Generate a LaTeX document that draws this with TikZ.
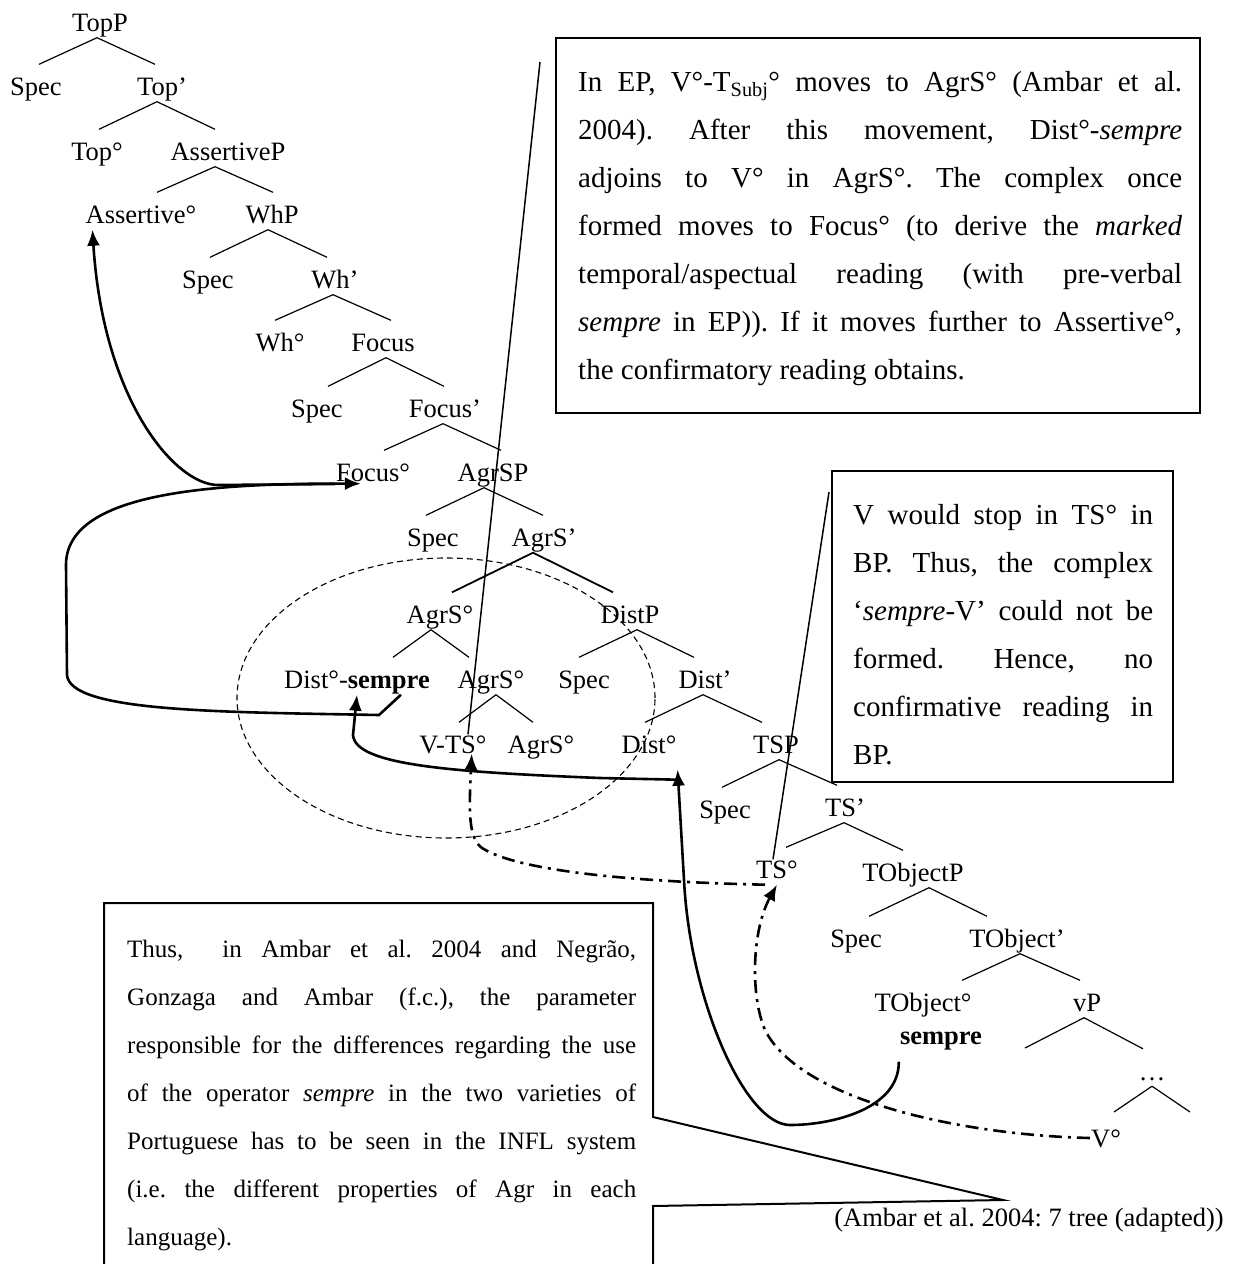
\documentclass[tikz,border=0pt]{standalone}
\usepackage{fontspec}
\setmainfont{Liberation Serif}
\frenchspacing
\usetikzlibrary{arrows.meta}

\begin{document}
\begin{tikzpicture}[x=1pt,y=-1pt,>={Latex[length=16pt,width=13pt]},
	lbl/.style={font=\fontsize{26.5}{30}\selectfont, inner sep=1pt, text height=18pt, text depth=5pt},
	branch/.style={line width=1.2pt},
	move/.style={line width=2.6pt},
	trace/.style={line width=2.6pt, dash pattern=on 13pt off 6pt on 3pt off 6pt},
	frame/.style={line width=2pt},
	note/.style={inner sep=0pt, align=justify, anchor=base west, font=\fontsize{29}{48}\selectfont}]
	\useasboundingbox (0,0) rectangle (1232,1264);

	% the tree, top down
	\node[lbl] (topP) at (100,25) {TopP};
	\node[lbl] (specA) at (36,89) {Spec};
	\node[lbl] (topBar) at (162,89) {Top’};
	\node[lbl] (top0) at (97,154) {Top°};
	\node[lbl] (assertP) at (228,154) {AssertiveP};
	\node[lbl] (assert0) at (141,217) {Assertive°};
	\node[lbl] (whP) at (272,217) {WhP};
	\node[lbl] (specB) at (208,282) {Spec};
	\node[lbl] (whBar) at (335,282) {Wh’};
	\node[lbl] (wh0) at (280,345) {Wh°};
	\node[lbl] (focus) at (383,345) {Focus};
	\node[lbl] (specC) at (317,411) {Spec};
	\node[lbl] (focusBar) at (445,411) {Focus’};
	\node[lbl] (focus0) at (373,475) {Focus°};
	\node[lbl] (agrsP) at (493,475) {AgrSP};
	\node[lbl] (specD) at (433,540) {Spec};
	\node[lbl] (agrsBar) at (544,540) {AgrS’};
	\node[lbl] (agrs0a) at (440,617) {AgrS°};
	\node[lbl] (distP) at (630,617) {DistP};
	\node[lbl] (distSempre) at (357,682) {Dist°-\textbf{sempre}};
	\node[lbl] (agrs0b) at (491,682) {AgrS°};
	\node[lbl] (specE) at (584,682) {Spec};
	\node[lbl] (distBar) at (705,682) {Dist’};
	\node[lbl] (vts0) at (453,747) {V-TS°};
	\node[lbl] (agrs0c) at (541,747) {AgrS°};
	\node[lbl] (dist0) at (649,747) {Dist°};
	\node[lbl] (tsP) at (776,747) {TSP};
	\node[lbl] (specF) at (725,812) {Spec};
	\node[lbl] (tsBar) at (845,810) {TS’};
	\node[lbl] (ts0) at (777,872) {TS°};
	\node[lbl] (tobjP) at (913,875) {TObjectP};
	\node[lbl] (specG) at (856,941) {Spec};
	\node[lbl] (tobjBar) at (1017,941) {TObject’};
	\node[lbl] (tobj0) at (923,1005) {TObject°};
	\node[lbl] (sempreT) at (941,1038) {\textbf{sempre}};
	\node[lbl] (vP) at (1087,1005) {vP};
	\node[lbl] (dots) at (1152,1073.5) {…};
	\node[lbl] (v0) at (1106,1141) {V°};
	\coordinate (vpL) at (1025,1048);
	\coordinate (dotsL) at (1114,1112);
	\coordinate (dotsR) at (1190,1112);

	\node[lbl] (cite) at (1029,1220) {(Ambar et al. 2004: 7 tree (adapted))};

	% branches: parent/shift/child/shift
	\foreach \p/\a/\c/\b in {topP/-3/specA/3, topP/-3/topBar/-7, topBar/-5/top0/2, topBar/-5/assertP/-13,
		assertP/-13/assert0/16, assertP/-13/whP/1, whP/-4/specB/2, whP/-4/whBar/-8,
		whBar/-2/wh0/-5, whBar/-2/focus/8, focus/3/specC/11, focus/3/focusBar/-1,
		focusBar/-2/focus0/11, focusBar/-2/agrsP/8, agrsP/-9/specD/-7, agrsP/-9/agrsBar/-1,
		agrs0a/-9/distSempre/36, agrs0a/-9/agrs0b/-22, distP/7/specE/-5, distP/7/distBar/-11,
		agrs0b/5/vts0/6, agrs0b/5/agrs0c/-8, distBar/-2/dist0/-4, distBar/-2/tsP/-14,
		tsP/3/specF/-3, tsP/3/tsBar/-8, tsBar/-1/ts0/9, tsBar/-1/tobjP/-10,
		tobjP/16/specG/13, tobjP/16/tobjBar/-30, tobjBar/3/tobj0/39, tobjBar/3/vP/-7, vP/-3/dots/-9}
		\draw[branch] ([xshift=\a pt]\p.south) -- ([xshift=\b pt,yshift=12pt]\c.north);
	\draw[branch,line width=1.8pt] ([xshift=-11pt]agrsBar.south) -- ([xshift=12pt,yshift=12pt]agrs0a.north);
	\draw[branch,line width=1.8pt] ([xshift=-11pt]agrsBar.south) -- ([xshift=-17pt,yshift=12pt]distP.north);
	\draw[branch] ([xshift=-3pt]vP.south) -- (vpL);
	\draw[branch] (dots.south) -- (dotsL);
	\draw[branch] (dots.south) -- (dotsR);

	% the complex in AgrS
	\draw[line width=1.1pt, dash pattern=on 6pt off 4pt] (446,698) ellipse [x radius=209pt, y radius=140pt];

	% movements
	\draw[move,->] ([yshift=-9pt]focus0.west) -- (218,485) .. controls (175,485) and (103,400) .. ([xshift=8pt]assert0.south west);
	\draw[move,->] ([xshift=-30pt]distSempre.south east) -- (379,715) .. controls (220,712) and (70,712) .. (67,675)
		-- (66,565) .. controls (66,495) and (200,483) .. ([xshift=26pt,yshift=4pt]focus0.south west);
	\draw[move,->] ([yshift=-20pt]dist0.south east) -- (600,778) .. controls (450,772) and (355,765) .. (353,735) -- (distSempre.south);
	\draw[move,->] ([yshift=-11pt]sempreT.south west) .. controls (899,1110) and (830,1125) .. (790,1125)
		.. controls (745,1125) and (690,1000) .. (684,880) -- ([yshift=-10pt]dist0.south east);
	\draw[trace,->] ([yshift=3pt]v0.west) .. controls (960,1135) and (800,1100) .. (765,1030)
		.. controls (750,995) and (752,930) .. (ts0.south);
	\draw[trace,->] ([xshift=-12pt]ts0.south) .. controls (640,882) and (520,872) .. (482,848)
		.. controls (468,838) and (469,810) .. ([xshift=-16pt,yshift=6pt]vts0.south east);

	% notes and their pointers
	\coordinate (call1) at (540,62);
	\coordinate (call2) at (829,492);
	\coordinate (tipB) at (1003,1200);
	\draw[line width=1.5pt] (call1) -- ([xshift=15pt]vts0.north);
	\draw[line width=1.5pt] (call2) -- ([xshift=-4pt]ts0.north);

	\draw[frame] (556,38) rectangle (1200,413);
	\node[note, text width=604pt] (noteEP) at (578,91) {In EP, V°-T\textsubscript{Subj}° moves to AgrS° (Ambar et al.\linebreak
		2004). After this movement, Dist°-\textit{sempre}\linebreak
		adjoins to V° in AgrS°. The complex once\linebreak
		formed moves to Focus° (to derive the \textit{marked}\linebreak
		temporal/aspectual reading (with pre-verbal\linebreak
		\textit{sempre} in EP)). If it moves further to Assertive°,\linebreak
		the confirmatory reading obtains.};

	\draw[frame] (832,471) rectangle (1173,782);
	\node[note, text width=300pt] (noteBP) at (853,524) {V would stop in TS° in\linebreak
		BP. Thus, the complex\linebreak
		‘\textit{sempre}-V’ could not be\linebreak
		formed. Hence, no\linebreak
		confirmative reading in\linebreak
		BP.};

	\draw[frame] (653,1264) -- (653,1206) -- (tipB) -- (653,1117) -- (653,903) -- (104,903) -- (104,1264);
	\node[note, text width=509pt, font=\fontsize{25}{48}\selectfont] (noteINFL) at (127,957) {Thus,\ \ in Ambar et al. 2004 and Negrão,\linebreak
		Gonzaga and Ambar (f.c.), the parameter\linebreak
		responsible for the differences regarding the use\linebreak
		of the operator \textit{sempre} in the two varieties of\linebreak
		Portuguese has to be seen in the INFL system\linebreak
		(i.e. the different properties of Agr in each\linebreak
		language).};
\end{tikzpicture}
\end{document}
